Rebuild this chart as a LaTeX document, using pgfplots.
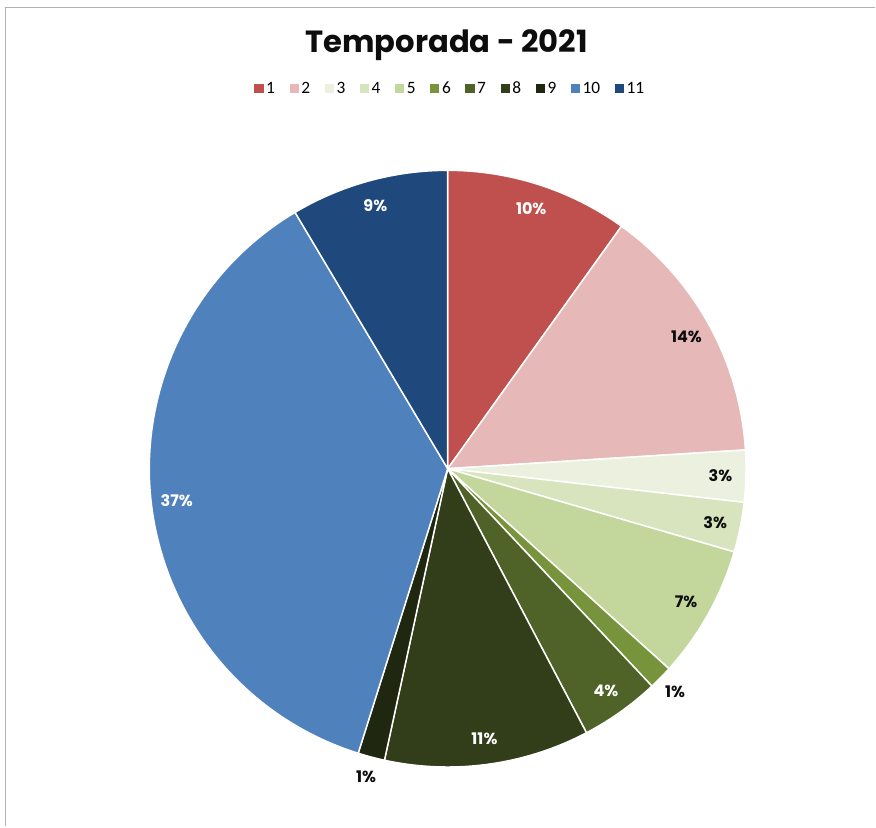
\documentclass[border=0pt]{standalone}
\usepackage{pgfplots}
\pgfplotsset{compat=1.18}
\usepackage{pgfplotstable}
\usepackage{fontspec}
\setmainfont{Poppins}
\newfontfamily\popfont{Poppins}
\newfontfamily\calfont{Carlito}
\definecolor{c1}{HTML}{C0504D}
\definecolor{c2}{HTML}{E6B9B8}
\definecolor{c3}{HTML}{EBF1DE}
\definecolor{c4}{HTML}{D7E4BD}
\definecolor{c5}{HTML}{C3D69B}
\definecolor{c6}{HTML}{77933C}
\definecolor{c7}{HTML}{4F6228}
\definecolor{c8}{HTML}{323D1A}
\definecolor{c9}{HTML}{1F2710}
\definecolor{c10}{HTML}{4F81BD}
\definecolor{c11}{HTML}{1F497D}
\definecolor{txt}{HTML}{0D0D0D}

\pgfplotstableread{
id val col lab tc out
1 9.9 c1 10 white 0
2 14.1 c2 14 txt 0
3 2.8 c3 3 txt 0
4 2.7 c4 3 txt 0
5 7.2 c5 7 txt 0
6 1.3 c6 1 txt 1
7 4.3 c7 4 white 0
8 11.1 c8 11 white 0
9 1.45 c9 1 txt 1
10 36.6 c10 37 white 0
11 8.55 c11 9 white 0
}\piedata

\def\R{223.9pt}

\begin{document}
\begin{tikzpicture}
\begin{axis}[
  x=0.75pt, y=0.75pt,
  xmin=0, xmax=876, ymin=0, ymax=827,
  hide axis, clip=false,
  legend image code/.code={\fill[#1] (0pt,-3.4pt) rectangle (6.8pt,3.4pt);},
  legend style={at={(0.5148,0.8924)}, anchor=center, draw=none, fill=none,
    inner sep=0pt,
    font=\calfont\fontsize{13}{15}\selectfont,
    /tikz/every even column/.append style={column sep=9pt}},
  legend columns=-1,
]
\path (axis cs:0,0) rectangle (axis cs:876,827);
\draw[gray!60, line width=0.9pt] (axis cs:5.5,0) -- (axis cs:5.5,819.5) -- (axis cs:876,819.5);
\node[font=\popfont\bfseries\fontsize{23}{27}\selectfont, text=txt] at (axis cs:447,782) {Temporada - 2021};

\pgfplotsinvokeforeach{1,...,11}{%
  \addlegendimage{fill=c#1, draw=none}
  \addlegendentry{#1}
}

\pgfplotsextra{%
  \pgfplotstablegetrowsof{\piedata}%
  \pgfmathtruncatemacro\lastrow{\pgfplotsretval-1}%
  \gdef\cum{0}%
  \foreach \i in {0,...,\lastrow}{%
    \pgfplotstablegetelem{\i}{val}\of\piedata \let\sval\pgfplotsretval
    \pgfplotstablegetelem{\i}{col}\of\piedata \let\scol\pgfplotsretval
    \pgfmathsetmacro\sa{90-3.6*\cum}%
    \pgfmathsetmacro\ea{90-3.6*(\cum+\sval)}%
    \filldraw[fill=\scol, draw=white, line width=1.1pt, line join=round]
      (axis cs:448,358) -- ++(\sa:\R) arc[start angle=\sa, end angle=\ea, radius=\R] -- cycle;
    \pgfmathsetmacro\newcum{\cum+\sval}%
    \xdef\cum{\newcum}%
  }%
  \gdef\cum{0}%
  \foreach \i in {0,...,\lastrow}{%
    \pgfplotstablegetelem{\i}{val}\of\piedata \let\sval\pgfplotsretval
    \pgfplotstablegetelem{\i}{lab}\of\piedata \let\slab\pgfplotsretval
    \pgfplotstablegetelem{\i}{tc}\of\piedata \let\stc\pgfplotsretval
    \pgfplotstablegetelem{\i}{out}\of\piedata \let\sout\pgfplotsretval
    \pgfmathsetmacro\ma{90-3.6*(\cum+0.5*\sval)}%
    \pgfmathsetmacro\lr{\sout==1 ? 239 : 204.8}%
    \path (axis cs:448,358) ++(\ma:\lr pt) node[font=\popfont\bfseries\fontsize{12}{14}\selectfont, text=\stc] {\slab\%};
    \pgfmathsetmacro\newcum{\cum+\sval}%
    \xdef\cum{\newcum}%
  }%
}
\end{axis}
\end{tikzpicture}
\end{document}
